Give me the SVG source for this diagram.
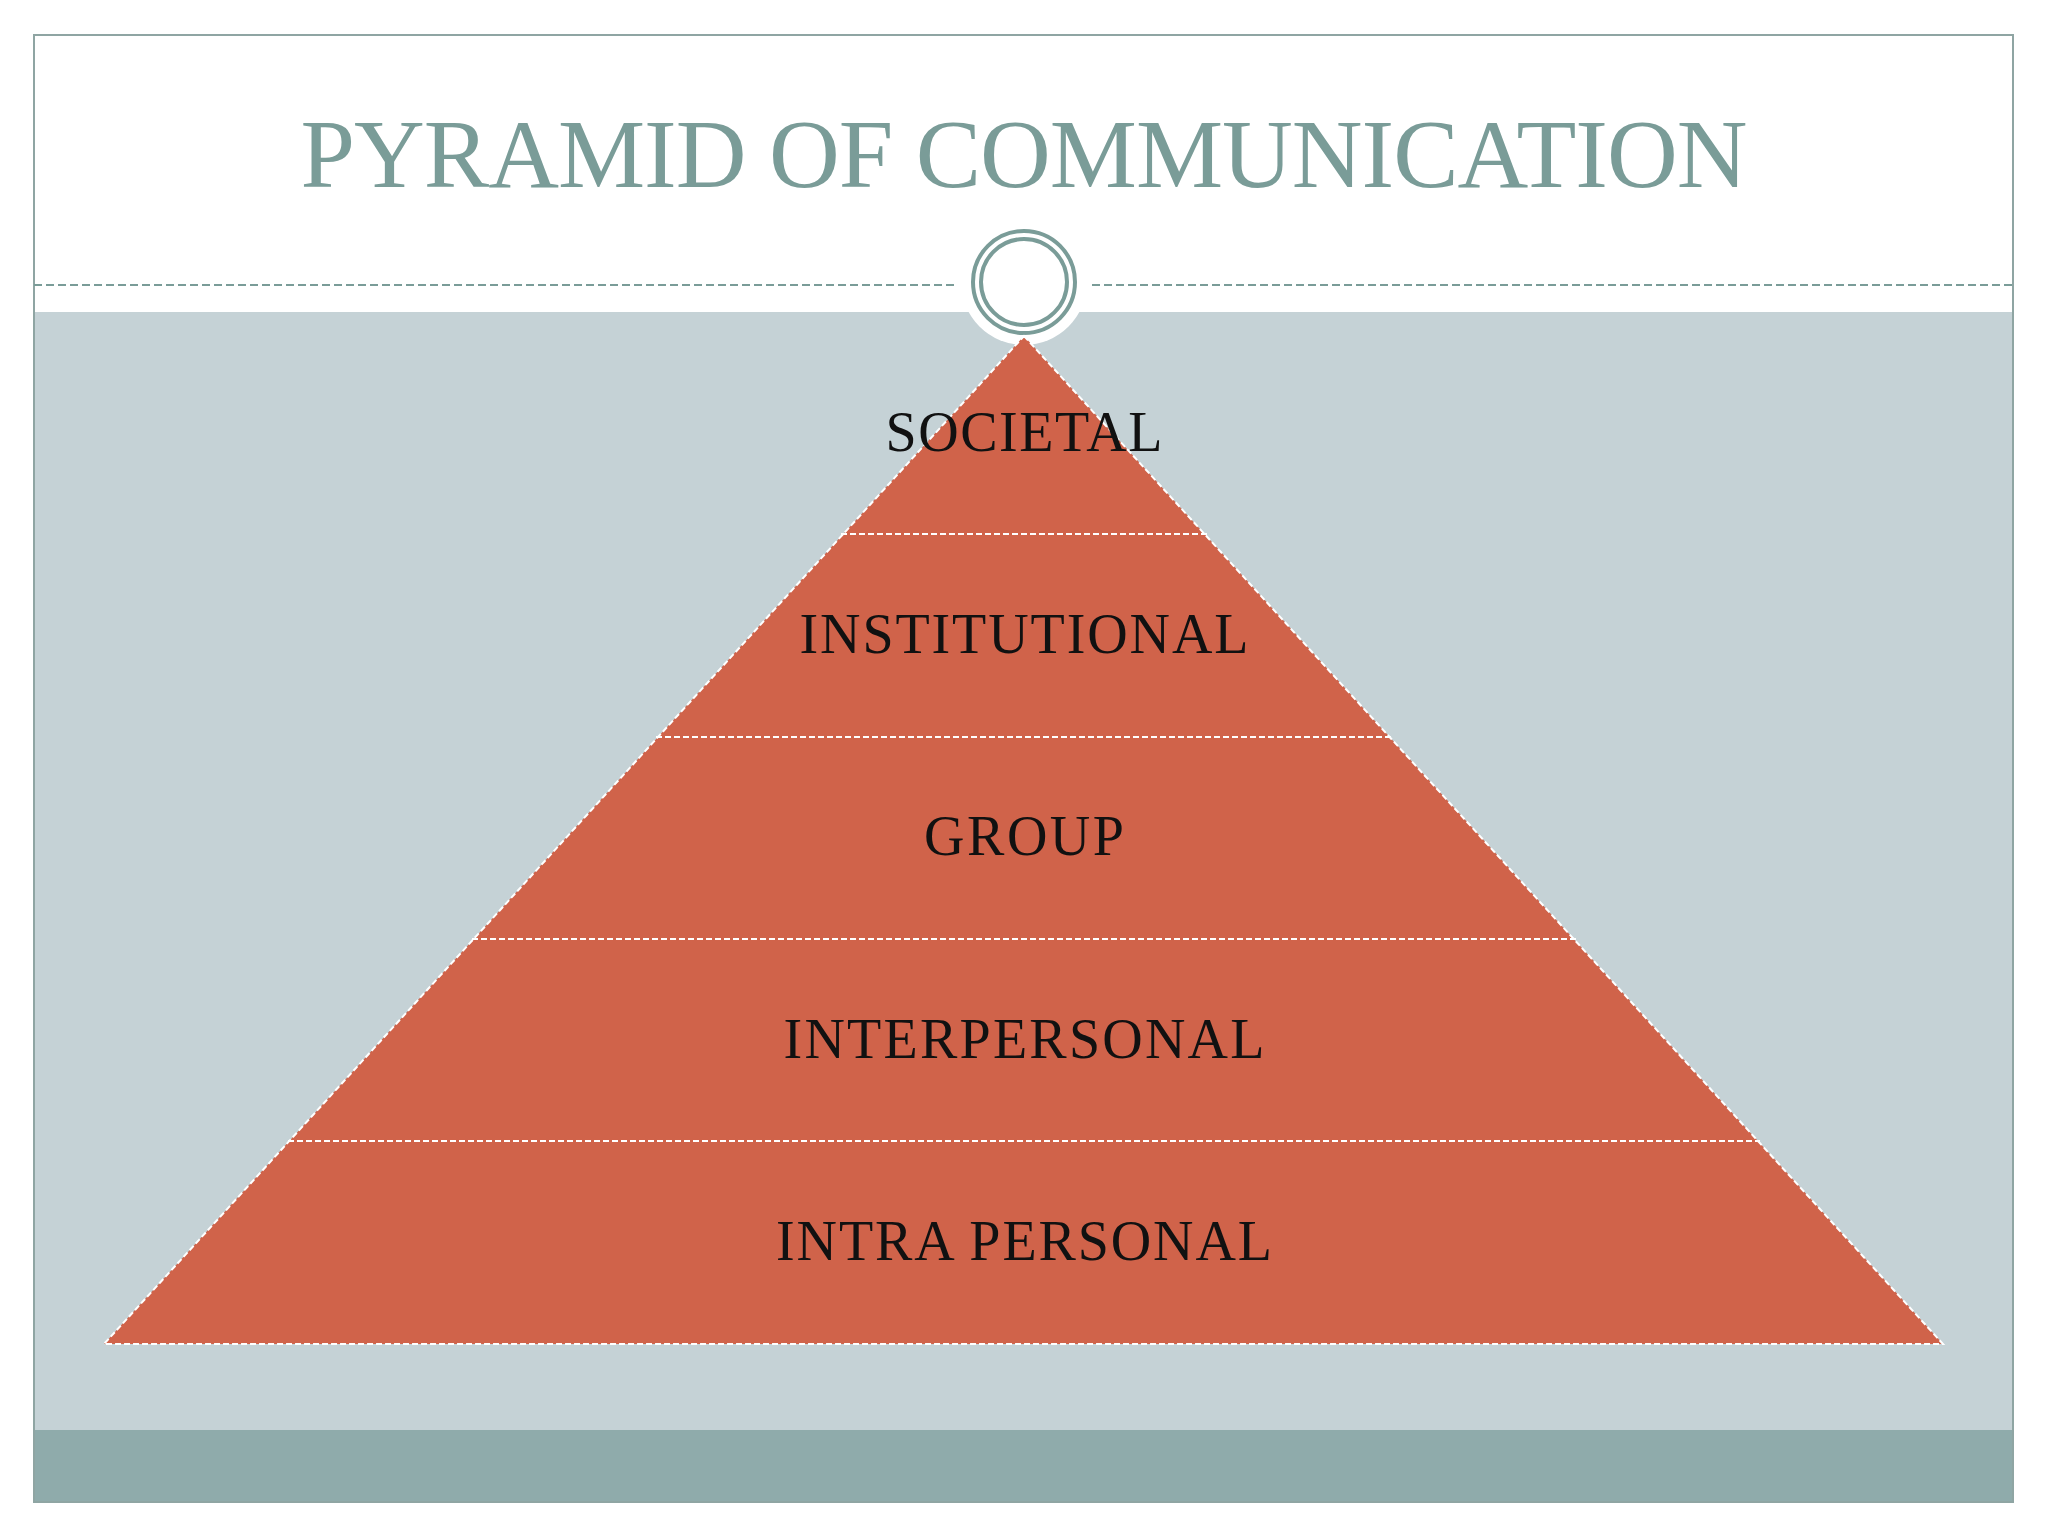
<svg xmlns="http://www.w3.org/2000/svg" width="2048" height="1536" viewBox="0 0 2048 1536">
<style>
.lbl{font-family:"Liberation Serif",serif;font-size:56px;fill:#111;text-anchor:middle}
.div{stroke:#fff;stroke-width:2;stroke-dasharray:6 3;fill:none}
</style>
<rect width="2048" height="1536" fill="#fff"/>
<rect x="34" y="312" width="1979" height="1118" fill="#c5d2d6"/>
<rect x="34" y="1430" width="1979" height="72" fill="#8fabab"/>
<rect x="34" y="35" width="1979" height="1467" fill="none" stroke="#8fa5a3" stroke-width="2"/>
<line x1="34" y1="285" x2="955" y2="285" stroke="#7a9c98" stroke-width="2" stroke-dasharray="8 4"/>
<line x1="1092" y1="285" x2="2013" y2="285" stroke="#7a9c98" stroke-width="2" stroke-dasharray="8 4"/>
<circle cx="1024" cy="282" r="63" fill="#fff"/>
<circle cx="1024" cy="282" r="51" fill="none" stroke="#7a9c98" stroke-width="4"/>
<circle cx="1024" cy="282" r="43" fill="none" stroke="#7a9c98" stroke-width="4"/>
<text x="1024" y="187" font-family="Liberation Serif,serif" font-size="98" fill="#7a9c98" text-anchor="middle" textLength="1447">PYRAMID OF COMMUNICATION</text>
<g id="pyramid">
<polygon points="1024,336 1943,1344 104,1344" fill="#d0634a" class="div" style="fill:#d0634a"/>
<line class="div" x1="841" y1="534" x2="1207" y2="534"/>
<line class="div" x1="656" y1="737" x2="1392" y2="737"/>
<line class="div" x1="472" y1="939" x2="1576" y2="939"/>
<line class="div" x1="288" y1="1141" x2="1760" y2="1141"/>
</g>
<g id="labels">
<text class="lbl" x="1024" y="451" textLength="277">SOCIETAL</text>
<text class="lbl" x="1024" y="653" textLength="449">INSTITUTIONAL</text>
<text class="lbl" x="1024" y="855" textLength="200">GROUP</text>
<text class="lbl" x="1024" y="1058" textLength="481">INTERPERSONAL</text>
<text class="lbl" x="1024" y="1260" textLength="496">INTRA PERSONAL</text>
</g>
</svg>
